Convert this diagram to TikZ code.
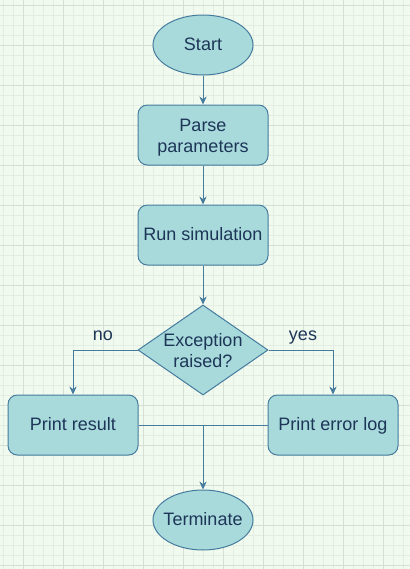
\documentclass[tikz,border=0pt]{standalone}
\usepackage{fontspec}
\setmainfont{Liberation Sans}
\usetikzlibrary{shapes.geometric}
\usetikzlibrary{arrows.meta}

\definecolor{paperGreen}{HTML}{F1FAEE}
\definecolor{gridMinor}{HTML}{E4EDE2}
\definecolor{gridMajor}{HTML}{D6DFD4}
\definecolor{boxFill}{HTML}{A8DADC}
\definecolor{boxLine}{HTML}{457B9D}
\definecolor{boxText}{HTML}{1D3557}

% line struts: keep every text line the same height
\newcommand{\linestrut}{\rule[-3.8pt]{0pt}{16.2pt}}
\newcommand{\tallstrut}{\rule[-3.8pt]{0pt}{18.2pt}}

\begin{document}
\begin{tikzpicture}[
    x=0.75pt, y=-0.75pt,
    font=\fontsize{13.5}{16.2}\selectfont,
    every node/.append style={execute at begin node=\linestrut,
        execute at end node=\linestrut},
    terminal/.style={ellipse, draw=boxLine, fill=boxFill, text=boxText,
        line width=0.75pt, inner ysep=0pt, inner xsep=-6pt,
        minimum width=75pt, minimum height=45pt},
    process/.style={rectangle, rounded corners=7pt, draw=boxLine, fill=boxFill,
        text=boxText, line width=0.75pt, inner sep=0pt, align=center,
        minimum width=97.5pt, minimum height=45pt},
    decision/.style={diamond, draw=boxLine, fill=boxFill, text=boxText,
        line width=0.75pt, inner xsep=-10pt, inner ysep=-8pt, align=center,
        aspect=1.44, minimum width=97.5pt, minimum height=67.5pt},
    flow/.style={draw=boxLine, line width=0.75pt},
    arrowtip/.style={-{Stealth[length=6pt,width=5.5pt]}},
    branch/.style={text=boxText, inner sep=0pt},
]

\useasboundingbox (0,0) rectangle (410,569);

% Grid paper
\fill[paperGreen] (0,0) rectangle (410,569);
\foreach \gx in {3,13,...,403}
    \draw[gridMinor, line width=0.75pt] (\gx,0) -- (\gx,569);
\foreach \gy in {5,15,...,565}
    \draw[gridMinor, line width=0.75pt] (0,\gy) -- (410,\gy);
\foreach \gx in {23,63,...,403}
    \draw[gridMajor, line width=0.75pt] (\gx,0) -- (\gx,569);
\foreach \gy in {5,45,...,565}
    \draw[gridMajor, line width=0.75pt] (0,\gy) -- (410,\gy);

% Nodes
\node[terminal] (start) at (203,45) {Start};
\node[process] (parse) at (203,135) {\tallstrut Parse\\parameters\linestrut};
\node[process] (simulate) at (203,235) {Run simulation};
\node[decision] (raised) at (203,350) {\tallstrut Exception\\raised?\linestrut};
\node[process] (result) at (73,425) {Print result};
\node[process] (errlog) at (333,425) {Print error log};
\node[terminal] (stop) at (203,520) {Terminate};

\coordinate (merge) at (203,425);

% Connectors
\draw[flow, arrowtip] (start) -- (parse);
\draw[flow, arrowtip] (parse) -- (simulate);
\draw[flow, arrowtip] (simulate) -- (raised);
\draw[flow, arrowtip] (raised.west) -| (result.north);
\draw[flow, arrowtip] (raised.east) -| (errlog.north);
\draw[flow] (result.east) -- (merge);
\draw[flow] (errlog.west) -- (merge);
\draw[flow, arrowtip] (merge) -- (stop);

% Branch labels
\node[branch] (nolabel) at (103,335) {no};
\node[branch] (yeslabel) at (303,335) {yes};

\end{tikzpicture}
\end{document}
